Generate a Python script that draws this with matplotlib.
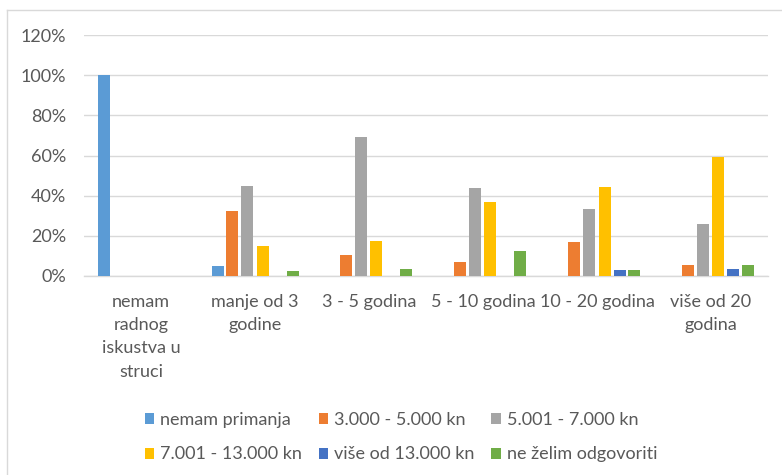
import matplotlib.pyplot as plt
import numpy as np
from matplotlib.lines import Line2D
from matplotlib.ticker import PercentFormatter

plt.rcParams['font.family'] = ['Lato', 'DejaVu Sans']

# years of working experience
categories = ['nemam\nradnog\niskustva u\nstruci', 'manje od 3\ngodine', '3 - 5 godina',
              '5 - 10 godina', '10 - 20 godina', 'više od 20\ngodina']

# monthly income groups, share of respondents (%)
series_names = ['nemam primanja', '3.000 - 5.000 kn', '5.001 - 7.000 kn',
                '7.001 - 13.000 kn', 'više od 13.000 kn', 'ne želim odgovoriti']
nemam_primanja = [100, 5, 0, 0, 0, 0]
od_3000_do_5000 = [0, 32.5, 10.3, 7.1, 16.7, 5.6]
od_5001_do_7000 = [0, 45, 69, 43.8, 33.3, 25.9]
od_7001_do_13000 = [0, 15, 17.2, 36.8, 44.4, 59.3]
vise_od_13000 = [0, 0, 0, 0, 2.8, 3.7]
ne_zelim = [0, 2.5, 3.4, 12.4, 2.8, 5.6]

series = [nemam_primanja, od_3000_do_5000, od_5001_do_7000,
          od_7001_do_13000, vise_od_13000, ne_zelim]
colors = ['#5B9BD5', '#ED7D31', '#A5A5A5', '#FFC000', '#4472C4', '#70AD47']
text_color = '#595959'
grid_color = '#D9D9D9'

fig = plt.figure(figsize=(7.82, 4.75), dpi=100)
ax = fig.add_axes([84 / 782, 199 / 475, 684 / 782, 241 / 475])

x = np.arange(len(categories))
step = 15 / 114
width = 12 / 114
handles = []
for i, (vals, col) in enumerate(zip(series, colors)):
    b = ax.bar(x + (i - 2.5) * step, vals, width, color=col, linewidth=0,
               label=series_names[i], zorder=3)
    handles.append(b)

ax.set_xlim(-0.5, len(categories) - 0.5)
ax.set_ylim(0, 120)
ax.set_yticks(np.arange(0, 121, 20))
ax.yaxis.set_major_formatter(PercentFormatter(decimals=0))
ax.set_xticks(x)
ax.set_xticklabels(categories, linespacing=1.55, va='top')
ax.tick_params(axis='both', length=0, labelsize=13, colors=text_color)
ax.tick_params(axis='x', pad=13)
ax.tick_params(axis='y', pad=13)
ax.grid(axis='y', color=grid_color, linewidth=1, zorder=0)
for side in ['top', 'right', 'left']:
    ax.spines[side].set_visible(False)
ax.spines['bottom'].set_color(grid_color)
ax.spines['bottom'].set_linewidth(1)

# legend laid out row by row
order = [0, 3, 1, 4, 2, 5]
leg = fig.legend([handles[k] for k in order], [series_names[k] for k in order],
                 ncol=3, loc='center', bbox_to_anchor=(401 / 782, 38 / 475),
                 frameon=False, fontsize=13, handlelength=0.55, handleheight=0.55,
                 handletextpad=0.33, columnspacing=0.9, labelspacing=1.05)
for t in leg.get_texts():
    t.set_color(text_color)

# chart frame
fig.add_artist(Line2D([7 / 782, 7 / 782], [0, 1 - 10 / 475], color=grid_color, linewidth=1))
fig.add_artist(Line2D([7 / 782, 1], [1 - 10 / 475, 1 - 10 / 475], color=grid_color, linewidth=1))

fig.savefig('out.png', dpi=100)
